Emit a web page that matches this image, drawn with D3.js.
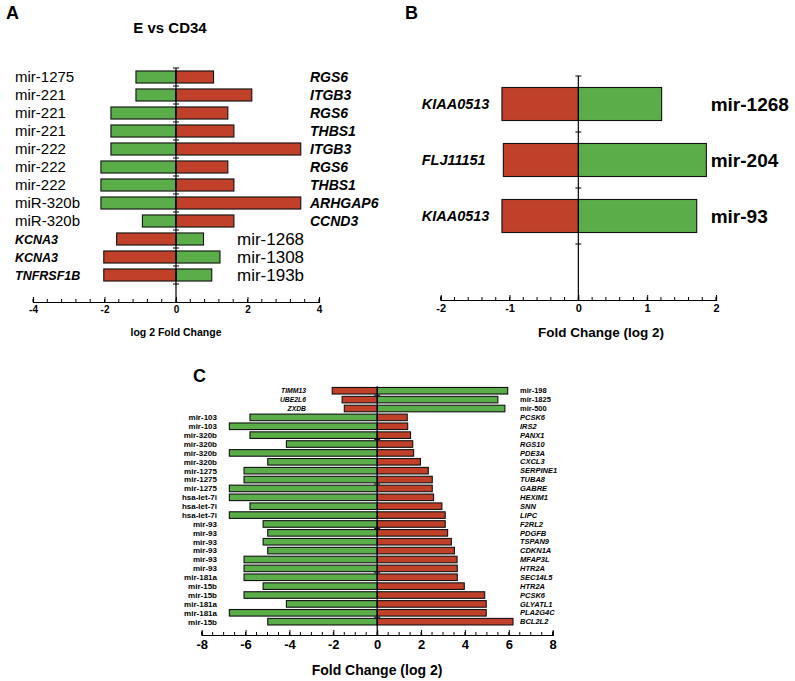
<!DOCTYPE html>
<html>
<head>
<meta charset="utf-8">
<script src="https://cdn.jsdelivr.net/npm/d3@7"></script>
<style>
body { margin: 0; background: #fff; }
text { font-family: "Liberation Sans", Arial, sans-serif; }
</style>
</head>
<body>
<svg id="chart" width="795" height="681"></svg>
<script>
// panel A : E vs CD34
var aLeftLabels = ["mir-1275", "mir-221", "mir-221", "mir-221", "mir-222", "mir-222", "mir-222", "miR-320b", "miR-320b", "KCNA3", "KCNA3", "TNFRSF1B"];
var aRightLabels = ["RGS6", "ITGB3", "RGS6", "THBS1", "ITGB3", "RGS6", "THBS1", "ARHGAP6", "CCND3", "mir-1268", "mir-1308", "mir-193b"];
var aGreen = [-1.12, -1.12, -1.82, -1.82, -1.82, -2.1, -2.1, -2.1, -0.94, 0.77, 1.23, 1.0];
var aRed = [1.05, 2.12, 1.45, 1.62, 3.49, 1.45, 1.62, 3.49, 1.62, -1.66, -2.02, -2.02];
var aTicks = [-4, -2, 0, 2, 4];

// panel B
var bLeftLabels = ["KIAA0513", "FLJ11151", "KIAA0513"];
var bRightLabels = ["mir-1268", "mir-204", "mir-93"];
var bRed = [-1.11, -1.09, -1.11];
var bGreen = [1.21, 1.86, 1.72];
var bTicks = [-2, -1, 0, 1, 2];

// panel C
var cLeftLabels = ["TIMM13", "UBE2L6", "ZXDB", "mir-103", "mir-103", "mir-320b", "mir-320b", "mir-320b", "mir-320b",
  "mir-1275", "mir-1275", "mir-1275", "hsa-let-7i", "hsa-let-7i", "hsa-let-7i", "mir-93", "mir-93", "mir-93", "mir-93",
  "mir-93", "mir-93", "mir-181a", "mir-15b", "mir-15b", "mir-181a", "mir-181a", "mir-15b"];
var cRightLabels = ["mir-198", "mir-1825", "mir-500", "PCSK6", "IRS2", "PANX1", "RGS10", "PDE3A", "CXCL3", "SERPINE1",
  "TUBA8", "GABRE", "HEXIM1", "SNN", "LIPC", "F2RL2", "PDGFB", "TSPAN9", "CDKN1A", "MFAP3L", "HTR2A", "SEC14L5",
  "HTR2A", "PCSK6", "GLYATL1", "PLA2G4C", "BCL2L2"];
var cGreen = [5.95, 5.5, 5.82, -5.8, -6.74, -5.8, -4.14, -6.74, -4.99, -6.07, -6.07, -6.74, -6.74, -5.8, -6.74,
  -5.2, -4.99, -5.2, -4.99, -6.07, -6.07, -6.07, -5.2, -6.07, -4.14, -6.74, -4.99];
var cRed = [-2.05, -1.6, -1.5, 1.37, 1.39, 1.52, 1.62, 1.66, 1.97, 2.33, 2.51, 2.51, 2.57, 2.95, 3.1, 3.1,
  3.21, 3.38, 3.52, 3.64, 3.65, 3.65, 3.97, 4.9, 4.97, 4.97, 6.19];
var cTicks = [-8, -6, -4, -2, 0, 2, 4, 6, 8];

var GREEN = "#5aad48", RED = "#c0402a";
var svg = d3.select("#chart");

function isMir(s) { return /^(mi|hsa)/.test(s); }

function drawPanel(p) {
	var g = svg.append("g");
	var x = d3.scaleLinear().domain(p.domain).range(p.xRange);
	var rows = d3.range(p.nBands);
	var y = d3.scaleBand().domain(rows).range(p.yRange).paddingInner(p.pad).paddingOuter(p.pad / 2);

	// bars
	[[p.green, GREEN], [p.red, RED]].forEach(function(s) {
		g.selectAll(null)
		.data(s[0])
		.enter().append("rect")
		.attr("x", function(d) { return x(Math.min(0, d)); })
		.attr("y", function(d, i) { return y(i); })
		.attr("width", function(d) { return Math.abs(x(d) - x(0)); })
		.attr("height", y.bandwidth())
		.attr("fill", s[1])
		.attr("stroke", "#111")
		.attr("stroke-width", 1.1);
	});

	// vertical zero line, ticks at band boundaries
	g.append("line")
	.attr("x1", x(0)).attr("x2", x(0))
	.attr("y1", p.yRange[0]).attr("y2", p.yRange[1])
	.attr("stroke", "#000").attr("stroke-width", 1.2);
	g.selectAll(null)
	.data(p.yTicks)
	.enter().append("line")
	.attr("x1", x(0) - 3).attr("x2", x(0) + 3)
	.attr("y1", function(d) { return p.yRange[0] + d * y.step(); })
	.attr("y2", function(d) { return p.yRange[0] + d * y.step(); })
	.attr("stroke", "#000");

	// x axis
	var ax = g.append("g")
	.attr("transform", "translate(0," + p.yRange[1] + ")")
	.call(d3.axisBottom(x).tickValues(p.ticks).tickSize(-4).tickPadding(p.tickPad).tickFormat(function(d) { return String(d); }));
	ax.select(".domain").attr("stroke", "#000").attr("stroke-width", 1.2);
	ax.selectAll(".tick line").attr("stroke", "#000").attr("y2", -5).attr("y1", 1);
	ax.selectAll(".tick text")
	.attr("fill", "#000")
	.style("font-family", "Liberation Sans, Arial, sans-serif")
	.style("font-weight", "bold")
	.style("font-size", p.tickFont + "px");
	ax.selectAll(".minor")
	.data(d3.range(p.domain[0], p.domain[1] + 1e-9, p.minor))
	.enter().append("line")
	.attr("x1", function(d) { return x(d); }).attr("x2", function(d) { return x(d); })
	.attr("y1", 0).attr("y2", -3)
	.attr("stroke", "#000");

	g.append("text")
	.attr("x", p.labelX).attr("y", p.labelY)
	.attr("text-anchor", "middle")
	.style("font-weight", "bold")
	.style("font-size", p.labelFont + "px")
	.text(p.axisLabel);

	// row labels
	function rowLabel(labels, side) {
		g.selectAll(null)
		.data(labels)
		.enter().append("text")
		.attr("x", function(d) { return p.labelPos(d, side); })
		.attr("y", function(d, i) { return y(i) + y.bandwidth() / 2; })
		.attr("dy", "0.36em")
		.attr("text-anchor", side == "left" && p.endLeft ? "end" : "start")
		.style("font-weight", function(d) { return p.weight(d); })
		.style("font-style", function(d) { return isMir(d) ? "normal" : "italic"; })
		.style("font-size", function(d) { return p.size(d, side) + "px"; })
		.text(function(d) { return d; });
	}
	rowLabel(p.left, "left");
	rowLabel(p.right, "right");
}

drawPanel({
	domain: [-4, 4], xRange: [33, 319], yRange: [68, 302], nBands: 13, pad: 0.33,
	green: aGreen, red: aRed, ticks: aTicks, minor: 0.4, tickFont: 10, tickPad: 4,
	yTicks: d3.range(0, 13),
	axisLabel: "log 2 Fold Change", labelX: 176, labelY: 336, labelFont: 10.5,
	left: aLeftLabels, right: aRightLabels,
	labelPos: function(d, side) {
		if (side == "left") return 15;
		return isMir(d) ? 237 : 310;
	},
	weight: function(d) { return isMir(d) ? "normal" : "bold"; },
	size: function(d, side) {
		if (isMir(d)) return side == "left" ? 15 : 17;
		return side == "left" ? 12.5 : 14;
	}
});

drawPanel({
	domain: [-2, 2], xRange: [440.7, 716], yRange: [76, 300], nBands: 4, pad: 0.41,
	green: bGreen, red: bRed, ticks: bTicks, minor: 0.2, tickFont: 11, tickPad: 4,
	yTicks: d3.range(0, 4),
	axisLabel: "Fold Change (log 2)", labelX: 601, labelY: 337, labelFont: 13.5,
	left: bLeftLabels, right: bRightLabels,
	labelPos: function(d, side) { return side == "left" ? 421.7 : 710.7; },
	weight: function() { return "bold"; },
	size: function(d) { return isMir(d) ? 19 : 14.5; }
});

drawPanel({
	domain: [-8, 8], xRange: [201.7, 552.7], yRange: [386.3, 635], nBands: 28, pad: 0.26,
	green: cGreen, red: cRed, ticks: cTicks, minor: 0.5, tickFont: 13, tickPad: 5,
	yTicks: [1, 6, 11, 16, 21, 26], endLeft: true,
	axisLabel: "Fold Change (log 2)", labelX: 377, labelY: 675, labelFont: 14,
	left: cLeftLabels, right: cRightLabels,
	labelPos: function(d, side) {
		if (side == "right") return 520;
		return isMir(d) ? 217 : 306;
	},
	weight: function() { return "bold"; },
	size: function(d, side) {
		if (side == "left") return isMir(d) ? 8 : 6.8;
		return 7.5;
	}
});

// panel letters and title
[["A", 6, 19], ["B", 405, 19], ["C", 193, 382]].forEach(function(l) {
	svg.append("text")
	.attr("x", l[1]).attr("y", l[2])
	.style("font-weight", "bold")
	.style("font-size", "18px")
	.text(l[0]);
});
svg.append("text")
.attr("x", 170).attr("y", 33)
.attr("text-anchor", "middle")
.style("font-weight", "bold")
.style("font-size", "15px")
.text("E vs CD34");
</script>
</body>
</html>
